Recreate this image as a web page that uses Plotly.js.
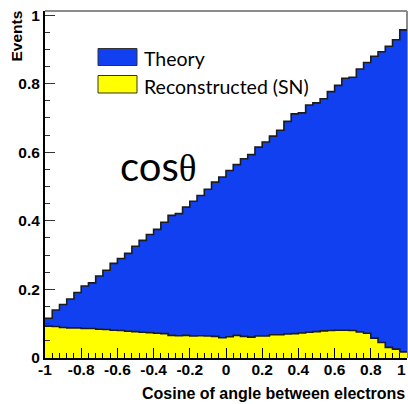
<!DOCTYPE html>
<html>
<head>
<meta charset="utf-8">
<script src="https://cdn.plot.ly/plotly-3.0.1.min.js"></script>
<style>
  html, body { margin: 0; padding: 0; background: #fff; }
  #chart { width: 408px; height: 404px; }
</style>
</head>
<body>
<div id="chart"></div>
<script>
// Binning of the cos(theta) histograms: 50 equal bins on [-1, 1]
const binLow = -1;
const binHigh = 1;
const nBins = 50;

// Bin contents (normalised events)
const theory = [
  0.116, 0.140, 0.156, 0.172, 0.191, 0.210, 0.219, 0.239, 0.256, 0.276,
  0.290, 0.305, 0.326, 0.343, 0.360, 0.375, 0.396, 0.416, 0.421, 0.440,
  0.457, 0.474, 0.492, 0.513, 0.528, 0.547, 0.564, 0.581, 0.593, 0.615,
  0.630, 0.647, 0.664, 0.690, 0.712, 0.715, 0.738, 0.744, 0.756, 0.777,
  0.795, 0.816, 0.819, 0.843, 0.862, 0.880, 0.893, 0.909, 0.928, 0.957
];
const reconstructed = [
  0.093, 0.092, 0.089, 0.088, 0.088, 0.086, 0.086, 0.084, 0.083, 0.081,
  0.080, 0.078, 0.077, 0.075, 0.074, 0.072, 0.071, 0.066, 0.065, 0.066,
  0.064, 0.065, 0.064, 0.063, 0.059, 0.062, 0.066, 0.063, 0.061, 0.064,
  0.064, 0.068, 0.068, 0.070, 0.071, 0.073, 0.075, 0.077, 0.079, 0.080,
  0.081, 0.081, 0.080, 0.076, 0.072, 0.058, 0.045, 0.031, 0.026, 0.018
];

const seriesNames = ['Theory', 'Reconstructed (SN)'];
const seriesColors = ['#1040f0', '#ffff00'];

// The last x label sits flush with the right edge, so it is drawn separately
const xTickVals = [-1, -0.8, -0.6, -0.4, -0.2, 0, 0.2, 0.4, 0.6, 0.8, 1];
const xTickText = ['-1', '-0.8', '-0.6', '-0.4', '-0.2', '0', '0.2', '0.4', '0.6', '0.8', ''];
const xEndLabel = '1';
const yTickVals = [0, 0.2, 0.4, 0.6, 0.8, 1];
const yTickText = ['0', '0.2', '0.4', '0.6', '0.8', '1'];

const xTitle = 'Cosine of angle between electrons';
const yTitle = 'Events';
const bigLabel = 'cos<span style="font-family:\'Liberation Serif\';font-size:37px">θ</span>';

// Page geometry (pixels)
const W = 408, H = 404;
const M = { l: 45, r: 1, t: 11, b: 46 };
const PW = W - M.l - M.r, PH = H - M.t - M.b;
const px = x => (x - M.l) / PW;            // pixel x -> paper x
const py = y => (H - M.b - y) / PH;        // pixel y -> paper y

// Bin edges; each histogram is drawn as a filled step line
const binWidth = (binHigh - binLow) / nBins;
const edges = Array.from({ length: nBins + 1 }, (_, i) => binLow + i * binWidth);

function stepTrace(values, name, color) {
  return {
    type: 'scatter',
    mode: 'lines',
    name: name,
    x: edges,
    y: values.concat([values[values.length - 1]]),
    line: { shape: 'hv', color: '#1c1c1c', width: 1.6 },
    fill: 'tozeroy',
    fillcolor: color,
    hoverinfo: 'skip',
    showlegend: false
  };
}

const traces = [
  stepTrace(theory, seriesNames[0], seriesColors[0]),
  stepTrace(reconstructed, seriesNames[1], seriesColors[1])
];

const tickFont = { family: 'Liberation Sans, Arial, sans-serif', size: 15.5, weight: 700, color: '#000' };
const titleFont = { family: 'Liberation Sans, Arial, sans-serif', size: 16, weight: 700, color: '#000' };
const legendFont = { family: 'Lato, sans-serif', size: 19.5, color: '#000' };

const layout = {
  width: W,
  height: H,
  margin: M,
  paper_bgcolor: '#fff',
  plot_bgcolor: '#fff',
  showlegend: false,
  xaxis: {
    range: [binLow, binHigh],
    tickmode: 'array',
    tickvals: xTickVals,
    ticktext: xTickText,
    ticks: 'inside',
    ticklen: 10,
    tickwidth: 1,
    tickcolor: '#000',
    ticklabelstandoff: -4,
    minor: { tick0: -1, dtick: 0.04, ticks: 'inside', ticklen: 5, tickwidth: 1, tickcolor: '#000', showgrid: false },
    showline: true,
    linecolor: '#000',
    linewidth: 2,
    showgrid: false,
    zeroline: false,
    tickfont: tickFont,
    fixedrange: true
  },
  yaxis: {
    range: [0, 1.012],
    tickmode: 'array',
    tickvals: yTickVals,
    ticktext: yTickText,
    ticks: 'inside',
    ticklen: 10,
    tickwidth: 1,
    tickcolor: '#333',
    minor: { tick0: 0, dtick: 0.05, ticks: 'inside', ticklen: 5, tickwidth: 1, tickcolor: '#333', showgrid: false },
    showline: true,
    linecolor: '#000',
    linewidth: 2,
    showgrid: false,
    zeroline: false,
    tickfont: tickFont,
    fixedrange: true
  },
  shapes: [
    // frame: top and right edges
    { type: 'line', xref: 'paper', yref: 'paper', x0: 0, x1: 1, y0: 1, y1: 1,
      line: { color: '#8c8c8c', width: 2 }, layer: 'below' },
    { type: 'line', xref: 'paper', yref: 'paper', x0: 1, x1: 1, y0: 0, y1: 1,
      line: { color: '#8c8c8c', width: 2 }, layer: 'below' },
    // legend swatches
    { type: 'rect', xref: 'paper', yref: 'paper', x0: px(98), x1: px(137), y0: py(65.5), y1: py(48.5),
      fillcolor: seriesColors[0], line: { color: '#333', width: 1 } },
    { type: 'rect', xref: 'paper', yref: 'paper', x0: px(98), x1: px(137), y0: py(93), y1: py(75.5),
      fillcolor: seriesColors[1], line: { color: '#333', width: 1 } }
  ],
  annotations: [
    { text: seriesNames[0], xref: 'paper', yref: 'paper', x: px(142), y: py(58), xanchor: 'left', yanchor: 'middle',
      showarrow: false, font: legendFont },
    { text: seriesNames[1], xref: 'paper', yref: 'paper', x: px(142), y: py(86), xanchor: 'left', yanchor: 'middle',
      showarrow: false, font: legendFont },
    { text: bigLabel, xref: 'paper', yref: 'paper', x: px(118), y: py(166), xanchor: 'left', yanchor: 'middle',
      showarrow: false, font: { family: 'Lato, sans-serif', size: 40, color: '#000' } },
    { text: xEndLabel, xref: 'paper', yref: 'paper', x: px(408), y: py(369.5), xanchor: 'right', yanchor: 'middle',
      showarrow: false, font: tickFont },
    { text: xTitle, xref: 'paper', yref: 'paper', x: px(407), y: py(393), xanchor: 'right', yanchor: 'middle',
      showarrow: false, font: titleFont },
    { text: yTitle, xref: 'paper', yref: 'paper', x: px(16), y: py(9), xanchor: 'center', yanchor: 'top',
      textangle: -90, showarrow: false, font: tickFont }
  ]
};

Plotly.newPlot('chart', traces, layout, { staticPlot: true, displayModeBar: false });
</script>
</body>
</html>
